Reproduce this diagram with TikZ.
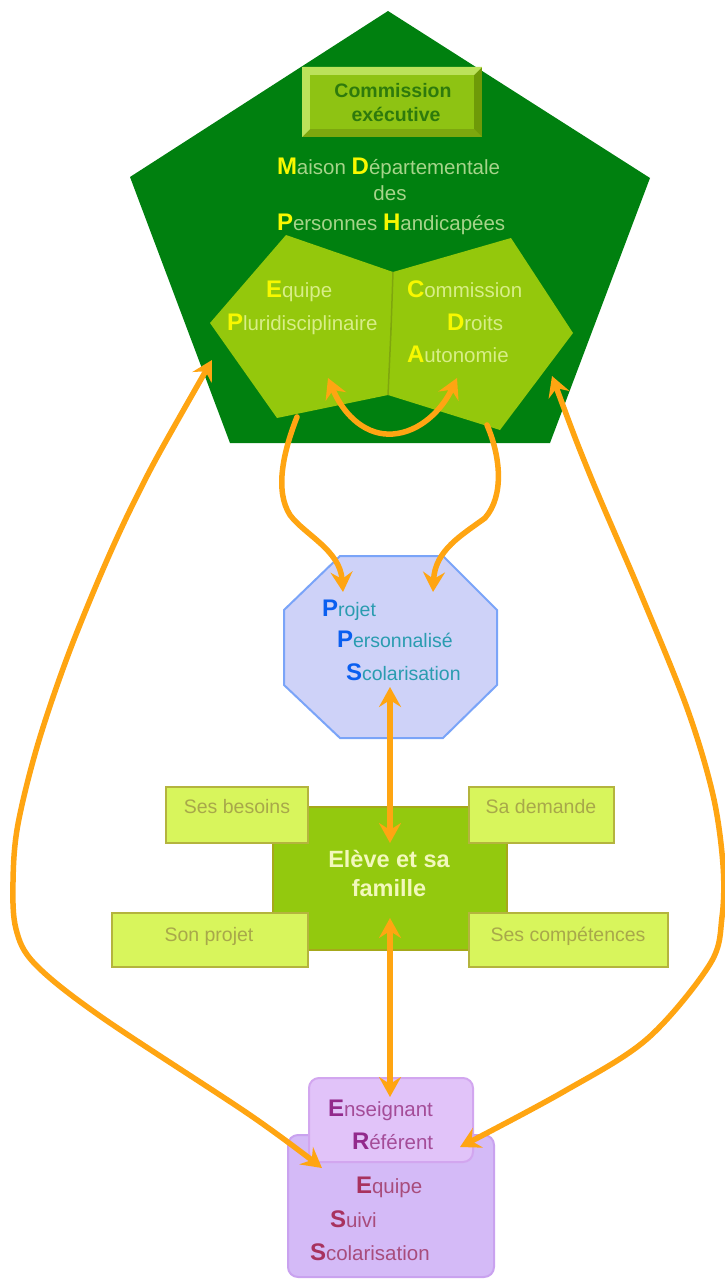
\documentclass[tikz,border=0pt]{standalone}
\usepackage{fontspec}
\setmainfont{Liberation Sans}
\usetikzlibrary{arrows.meta}
\definecolor{pent}{HTML}{00800F}
\definecolor{innerg}{HTML}{94C80C}
\definecolor{seam}{HTML}{7FA60E}
\definecolor{ceMid}{HTML}{8EC313}
\definecolor{ceLight}{HTML}{BBE25A}
\definecolor{ceDark}{HTML}{6E9A08}
\definecolor{ceBot}{HTML}{7CA80E}
\definecolor{ceText}{HTML}{2E7A0C}
\definecolor{yel}{HTML}{F8F800}
\definecolor{pgtxt}{HTML}{A6D48A}
\definecolor{intxt}{HTML}{D8EE88}
\definecolor{arrowc}{HTML}{FFA512}
\definecolor{ppsfill}{HTML}{CED2F8}
\definecolor{ppsline}{HTML}{7AA4F8}
\definecolor{ppsini}{HTML}{0A5FF0}
\definecolor{ppstxt}{HTML}{2A9CB0}
\definecolor{elfill}{HTML}{93C90E}
\definecolor{elline}{HTML}{A6A81A}
\definecolor{eltxt}{HTML}{F2F8BC}
\definecolor{sbfill}{HTML}{D8F55C}
\definecolor{sbline}{HTML}{B4B43E}
\definecolor{sbtxt}{HTML}{A8A84A}
\definecolor{erfill}{HTML}{E1C3F9}
\definecolor{erline}{HTML}{D2A6EF}
\definecolor{esfill}{HTML}{D4BAF7}
\definecolor{esline}{HTML}{C9A2EF}
\definecolor{erini}{HTML}{922A8C}
\definecolor{ertxt}{HTML}{A44C98}
\definecolor{esini}{HTML}{A8325E}
\definecolor{estxt}{HTML}{A84C7C}
\newcommand{\ini}[2]{{\fontsize{24pt}{24pt}\selectfont\bfseries\color{#1}#2}}
\begin{document}
\begin{tikzpicture}[x=1pt,y=-1pt,
  >={Stealth[length=20pt,width=22pt,inset=7pt]},
  txt/.style={inner sep=0pt, outer sep=0pt, font=\fontsize{19.5pt}{22pt}\selectfont},
  wtxt/.style={inner sep=0pt, outer sep=0pt, font=\fontsize{20.5pt}{22pt}\selectfont},
  arr/.style={draw=arrowc, line width=5.5pt, line cap=round},
  sbox/.style={fill=sbfill, draw=sbline, line width=2.5pt, inner sep=0pt},
  sblab/.style={txt, text=sbtxt, anchor=base}]
\useasboundingbox (0,0) rectangle (725,1279);
% MDPH pentagon
\fill[pent] (388,11) -- (650,178) -- (550,443) -- (230,443) -- (130,177) -- cycle;
\coordinate (mdph) at (390,240);
% commission executive (bevelled box)
\fill[ceDark] (302,67) rectangle (482,137);
\fill[ceBot] (302,137) -- (482,137) -- (474,129) -- (310,129) -- cycle;
\fill[ceLight] (302,67) -- (482,67) -- (474,75) -- (310,75) -- (310,129) -- (302,137) -- cycle;
\fill[ceMid] (310,75) rectangle (474,129);
\node[txt, font=\fontsize{19.5pt}{24pt}\selectfont\bfseries, text=ceText, align=center] (ce) at (393,103) {Commission\\[0pt]\hspace*{6pt}exécutive};
% MDPH title
\node[wtxt, text=pgtxt, anchor=base west] (mdph1) at (277,174) {\ini{yel}{M}aison \ini{yel}{D}épartementale};
\node[wtxt, text=pgtxt, anchor=base] (mdph2) at (390,200) {des};
\node[wtxt, text=pgtxt, anchor=base west] (mdph3) at (277,230) {\ini{yel}{P}ersonnes \ini{yel}{H}andicapées};
% inner shapes EP and CDA
\fill[innerg] (286,235) -- (393,272) -- (388,395) -- (277,418) -- (210,323) -- cycle;
\fill[innerg] (393,272) -- (511,238) -- (573,333) -- (500,430) -- (388,395) -- cycle;
\draw[seam, line width=1.5pt] (393,272) -- (391,330) -- (388,395);
\node[wtxt, text=intxt, anchor=base west] (ep1) at (266,297) {\ini{yel}{E}quipe};
\node[wtxt, text=intxt, anchor=base west] (ep2) at (227,330) {\ini{yel}{P}luridisciplinaire};
\node[wtxt, text=intxt, anchor=base west] (cda1) at (407,297) {\ini{yel}{C}ommission};
\node[wtxt, text=intxt, anchor=base west] (cda2) at (447,330) {\ini{yel}{D}roits};
\node[wtxt, text=intxt, anchor=base west] (cda3) at (407,362) {\ini{yel}{A}utonomie};
% PPS octagon
\filldraw[fill=ppsfill, draw=ppsline, line width=2pt] (340,556) -- (443,556) -- (497,610) -- (497,685) -- (443,738) -- (340,738) -- (284,685) -- (284,610) -- cycle;
\coordinate (pps) at (390,647);
\node[txt, text=ppstxt, anchor=base west] (pps1) at (322,616) {\ini{ppsini}{P}rojet};
\node[txt, text=ppstxt, anchor=base west] (pps2) at (337,647) {\ini{ppsini}{P}ersonnalisé};
\node[txt, text=ppstxt, anchor=base west] (pps3) at (346,680) {\ini{ppsini}{S}colarisation};
% Eleve et sa famille
\node[fill=elfill, draw=elline, line width=2.5pt, minimum width=234pt, minimum height=143pt, inner sep=0pt] (eleve) at (390,878.5) {};
\node[sbox, minimum width=142pt, minimum height=56pt] (besoins) at (237,815) {};
\node[sbox, minimum width=145pt, minimum height=56pt] (demande) at (541.5,815) {};
\node[sbox, minimum width=196pt, minimum height=54pt] (projet) at (210,940) {};
\node[sbox, minimum width=199pt, minimum height=54pt] (comp) at (568.5,940) {};
\node[sblab] (besoinsT) at (237,813) {Ses besoins};
\node[sblab] (demandeT) at (541,813) {Sa demande};
\node[sblab] (projetT) at (209,941) {Son projet};
\node[sblab] (compT) at (568,941) {Ses compétences};
\node[txt, font=\fontsize{23.5pt}{24pt}\selectfont\bfseries, text=eltxt, anchor=base] (el1) at (389,867) {Elève et sa};
\node[txt, font=\fontsize{23.5pt}{24pt}\selectfont\bfseries, text=eltxt, anchor=base] (el2) at (389,896) {famille};
% ERS / ESS
\node[fill=esfill, draw=esline, line width=2pt, rounded corners=10pt, minimum width=206pt, minimum height=142pt, inner sep=0pt] (ess) at (391,1206) {};
\node[fill=erfill, draw=erline, line width=2pt, rounded corners=10pt, minimum width=164pt, minimum height=84pt, inner sep=0pt] (ers) at (391,1120) {};
\node[wtxt, text=ertxt, anchor=base west] (ers1) at (328,1116) {\ini{erini}{E}nseignant};
\node[wtxt, text=ertxt, anchor=base west] (ers2) at (352,1149) {\ini{erini}{R}éférent};
\node[wtxt, text=estxt, anchor=base west] (ess1) at (356,1193) {\ini{esini}{E}quipe};
\node[wtxt, text=estxt, anchor=base west] (ess2) at (330,1227) {\ini{esini}{S}uivi};
\node[wtxt, text=estxt, anchor=base west] (ess3) at (310,1260) {\ini{esini}{S}colarisation};
% connector end points
\coordinate (epOut) at (297,417);
\coordinate (cdaOut) at (487,425);
\coordinate (ppsInL) at (343,592);
\coordinate (ppsInR) at (433,592);
\coordinate (epIn) at (328,378);
\coordinate (cdaIn) at (457,378);
\coordinate (ppsBot) at (390,687);
\coordinate (eleveTop) at (390,843);
\coordinate (eleveBot) at (390,918);
\coordinate (ersTop) at (390,1097);
\coordinate (mdphL) at (212,360);
\coordinate (mdphR) at (552,376);
\coordinate (essIn) at (322,1168);
\coordinate (ersIn) at (460,1147);
% arrows
\draw[arr,->] (epOut) .. controls (284,450) and (274,490) .. (290,515) .. controls (305,535) and (340,550) .. (ppsInL);
\draw[arr,->] (cdaOut) .. controls (500,455) and (505,495) .. (485,518) .. controls (462,535) and (435,550) .. (ppsInR);
\draw[arr,<->] (epIn) .. controls (345,418) and (368,436) .. (393,434) .. controls (420,432) and (442,410) .. (cdaIn);
\draw[arr,<->] (ppsBot) -- (eleveTop);
\draw[arr,<->] (eleveBot) -- (ersTop);
\draw[arr,<->] plot[smooth, tension=0.55] coordinates {(mdphL) (133,504) (77,632) (40,737) (18,824) (13,882) (16,929) (35,964) (100,1016) (250,1115) (essIn)};
\draw[arr,<->] plot[smooth, tension=0.55] coordinates {(mdphR) (590,475) (640,592) (687,708) (713,795) (723,865) (722,917) (710,964) (647,1039) (563,1092) (ersIn)};
\end{tikzpicture}
\end{document}
